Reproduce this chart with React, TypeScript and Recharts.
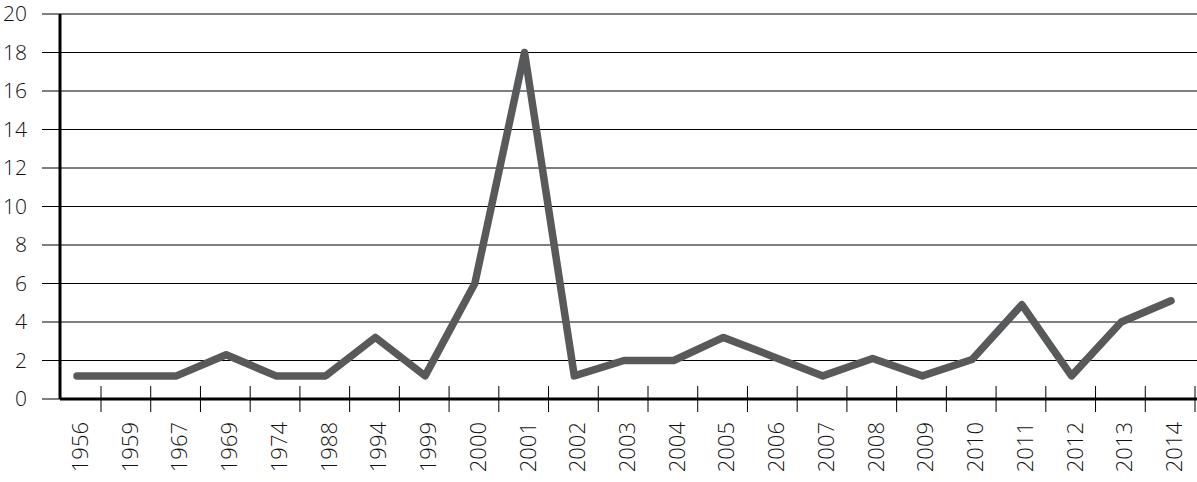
import { LineChart, Line, XAxis, YAxis, CartesianGrid } from 'recharts'

const years = [
  '1956', '1959', '1967', '1969', '1974', '1988', '1994', '1999', '2000', '2001', '2002', '2003',
  '2004', '2005', '2006', '2007', '2008', '2009', '2010', '2011', '2012', '2013', '2014',
]
const values = [
  1.2, 1.2, 1.2, 2.3, 1.2, 1.2, 3.2, 1.2, 6.0, 18.0, 1.2, 2.0,
  2.0, 3.2, 2.2, 1.2, 2.1, 1.2, 2.05, 4.9, 1.2, 4.0, 5.1,
]
const yTicks = [0, 2, 4, 6, 8, 10, 12, 14, 16, 18, 20]

const chartData = years.map((year, i) => ({ year, value: values[i] }))

const FONT = '"Open Sans", sans-serif'

function YearTick(props: any) {
  const { x, y, payload } = props
  const ax = x + 11
  const ay = y + 23
  return (
    <g>
      <line x1={x + 24} x2={x + 24} y1={y - 13} y2={y + 13} stroke="#000" strokeWidth={1} />
      <text
        x={ax}
        y={ay}
        transform={`rotate(-90, ${ax}, ${ay})`}
        textAnchor="end"
        fontSize={22}
        fontWeight={300}
        fontFamily={FONT}
        fill="#111"
      >
        {payload.value}
      </text>
    </g>
  )
}

export default function App() {
  return (
    <div style={{ position: 'absolute', left: 0, top: 0, background: '#fff' }}>
      <LineChart
        width={1197}
        height={482}
        data={chartData}
        margin={{ top: 14, right: 0, left: 0, bottom: 0 }}
      >
        <CartesianGrid vertical={false} stroke="#000" strokeWidth={1} />
        <XAxis
          dataKey="year"
          height={83}
          interval={0}
          padding={{ left: 17, right: 26 }}
          axisLine={{ stroke: '#000', strokeWidth: 3 }}
          tickLine={false}
          tickSize={0}
          tickMargin={0}
          tick={<YearTick />}
        />
        <YAxis
          width={60}
          domain={[0, 20]}
          ticks={yTicks}
          interval={0}
          axisLine={{ stroke: '#000', strokeWidth: 3 }}
          tickLine={{ stroke: '#000', strokeWidth: 1 }}
          tickSize={18}
          tickMargin={15}
          tick={{ fontSize: 21, fontWeight: 300, fontFamily: FONT, fill: '#111' }}
        />
        <Line
          type="linear"
          dataKey="value"
          stroke="#58595b"
          strokeWidth={7.5}
          strokeLinecap="round"
          strokeLinejoin="round"
          dot={false}
          activeDot={false}
          isAnimationActive={false}
        />
      </LineChart>
    </div>
  )
}
